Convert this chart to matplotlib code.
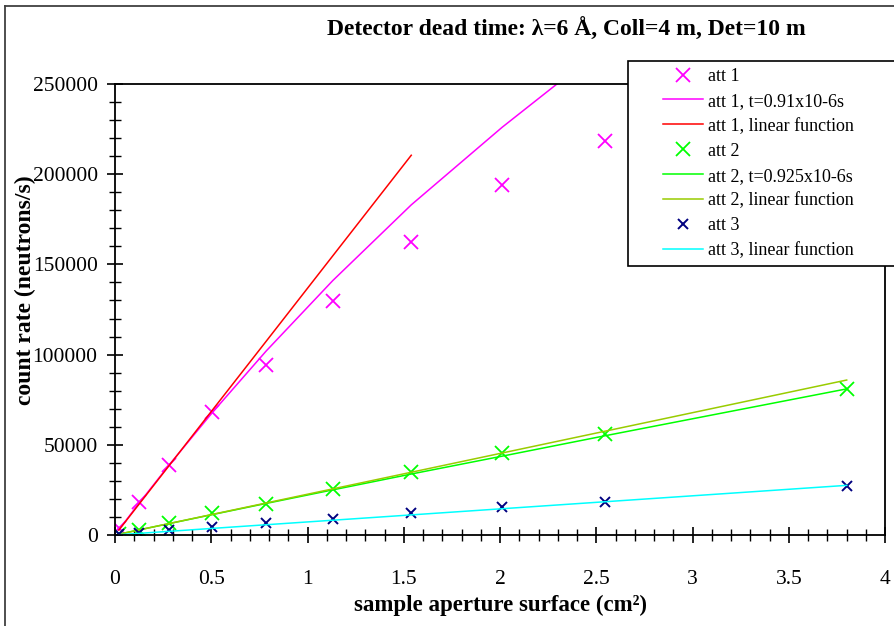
import matplotlib
matplotlib.use("Agg")
import matplotlib.pyplot as plt
from matplotlib.lines import Line2D
from matplotlib.patches import Rectangle
from matplotlib.ticker import MultipleLocator

plt.rcParams['font.family'] = ['Liberation Serif', 'DejaVu Serif']

# aperture surfaces (cm^2)
x = [0.0201, 0.1257, 0.2827, 0.5027, 0.7854, 1.131, 1.539, 2.011, 2.545, 3.801]

att1 = [4000, 18500, 38800, 68200, 94200, 129700, 162600, 194200, 218400]
att1_fit = [2900, 17700, 39000, 67500, 102000, 141000, 183000, 226000, 271000]
att1_lin = [2750, 17200, 38700, 68800, 107400, 154700, 210500]

att2 = [500, 2800, 6600, 12200, 17200, 25500, 35000, 45300, 56000, 81000]
att2_fit = [450, 2830, 6350, 11250, 17500, 25000, 33800, 43700, 55000, 81000]
att2_lin = [450, 2840, 6390, 11360, 17750, 25560, 34780, 45450, 57520, 85900]

att3 = [500, 1300, 2800, 4600, 6500, 8700, 12000, 15300, 18500, 27200]
att3_lin = [145, 910, 2050, 3640, 5690, 8190, 11140, 14560, 18430, 27520]

labels = ["att 1", "att 1, t=0.91x10-6s", "att 1, linear function",
          "att 2", "att 2, t=0.925x10-6s", "att 2, linear function",
          "att 3", "att 3, linear function"]

W, H = 894, 626
fig = plt.figure(figsize=(W / 100, H / 100), dpi=100)
ax = fig.add_axes([115 / W, 1 - 535 / H, (885 - 115) / W, (535 - 84) / H])

h = []
h += ax.plot(x[:9], att1, ls='none', marker='x', color='#FF00FF', ms=10, mew=1.3, label=labels[0])
h += ax.plot(x[:9], att1_fit, color='#FF00FF', lw=1.1, label=labels[1])
h += ax.plot(x[:7], att1_lin, color='#FF0000', lw=1.1, label=labels[2])
h += ax.plot(x, att2, ls='none', marker='x', color='#00FF00', ms=10, mew=1.3, label=labels[3])
h += ax.plot(x, att2_fit, color='#00FF00', lw=1.1, label=labels[4])
h += ax.plot(x, att2_lin, color='#99CC00', lw=1.1, label=labels[5])
h += ax.plot(x, att3, ls='none', marker='x', color='#000080', ms=7, mew=1.4, label=labels[6])
h += ax.plot(x, att3_lin, color='#00FFFF', lw=1.1, label=labels[7])

ax.set_xlim(0, 4)
ax.set_ylim(0, 250000)
ax.xaxis.set_major_locator(MultipleLocator(0.5))
ax.xaxis.set_minor_locator(MultipleLocator(0.1))
ax.yaxis.set_major_locator(MultipleLocator(50000))
ax.yaxis.set_minor_locator(MultipleLocator(10000))
ax.xaxis.set_major_formatter(matplotlib.ticker.FuncFormatter(lambda v, p: f"{v:g}"))
ax.yaxis.set_major_formatter(matplotlib.ticker.FuncFormatter(lambda v, p: f"{int(v)}"))
ax.tick_params(which='major', direction='inout', length=11, width=1.2, labelsize=15.5, pad=7)
ax.tick_params(which='minor', direction='inout', length=8, width=1.0)
ax.tick_params(axis='x', which='major', pad=20)
for s in ax.spines.values():
    s.set_linewidth(1.3)
    s.set_color('black')

fig.text(500 / W, 1 - 605 / H, "sample aperture surface (cm²)",
         ha='center', va='center', fontsize=16.5, fontweight='bold')
fig.text(25 / W, 1 - 290 / H, "count rate (neutrons/s)", rotation=90,
         ha='center', va='center', fontsize=17, fontweight='bold')

fig.text(566 / W, 1 - 29 / H, "Detector dead time: λ=6 Å, Coll=4 m, Det=10 m",
         ha='center', va='center', fontsize=17, fontweight='bold')

# outer frame (left and top edges)
fig.add_artist(Line2D([5 / W, 5 / W], [0, 1 - 6 / H], color='#404040', lw=1.3, transform=fig.transFigure))
fig.add_artist(Line2D([5 / W, 1], [1 - 6 / H, 1 - 6 / H], color='#404040', lw=1.3, transform=fig.transFigure))

# legend box
fig.add_artist(Rectangle((628 / W, 1 - 266 / H), (W - 628 + 5) / W, (266 - 61) / H,
                         transform=fig.transFigure, facecolor='white', edgecolor='black',
                         lw=1.2, clip_on=False, zorder=5))
leg = fig.legend(handles=h, labels=labels, loc='upper left',
                 bbox_to_anchor=(652 / W, 1 - 57 / H), frameon=False, fontsize=13,
                 handlelength=2.2, handletextpad=0.28, labelspacing=0.44, borderpad=0.1)
leg.set_zorder(6)

fig.savefig("out.png", dpi=100)
